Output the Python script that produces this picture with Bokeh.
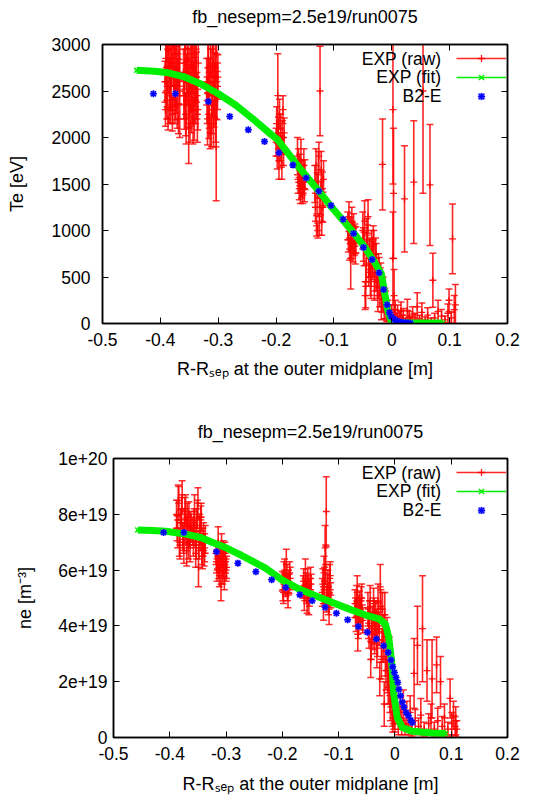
from bokeh.plotting import figure
from bokeh.models import (ColumnDataSource, FixedTicker, LinearAxis, Label, Legend,
                          LegendItem, Range1d, CustomJSTickFormatter)
from bokeh.embed import file_html
from bokeh.resources import INLINE

# ---------------------------------------------------------------- data
TITLE = "fb_nesepm=2.5e19/run0075"
x_label = "R-R\u209b\u2091\u209a at the outer midplane [m]"
te_label = "Te [eV]"
ne_label = "ne [m\u207b\u00b3]"
legend_labels = ["EXP (raw)", "EXP (fit)", "B2-E"]

x_ticks = [-0.5, -0.4, -0.3, -0.2, -0.1, 0.0, 0.1, 0.2]
x_tick_labels = ["-0.5", "-0.4", "-0.3", "-0.2", "-0.1", "0", "0.1", "0.2"]
te_ticks = [0, 500, 1000, 1500, 2000, 2500, 3000]
te_tick_labels = ["0", "500", "1000", "1500", "2000", "2500", "3000"]
ne_ticks = [0, 2, 4, 6, 8, 10]          # units of 1e19 m^-3
ne_tick_labels = ["0", "2e+19", "4e+19", "6e+19", "8e+19", "1e+20"]

# --- Te panel (eV)
te_fit_x = [-0.441, -0.41, -0.39, -0.36, -0.33, -0.30, -0.27, -0.24, -0.21, -0.197,
            -0.162, -0.128, -0.105, -0.070, -0.047, -0.030, -0.018, -0.013, -0.007,
            -0.002, 0.004, 0.02, 0.05, 0.088]
te_fit_y = [2722, 2712, 2700, 2655, 2575, 2470, 2350, 2200, 2040, 1975,
            1692, 1439, 1258, 1005, 824, 662, 535, 354, 137,
            40, 8, 5, 5, 5]

te_b2_x = [-0.412, -0.374, -0.317, -0.280, -0.248, -0.220, -0.195, -0.171, -0.148,
           -0.126, -0.105, -0.084, -0.066, -0.049, -0.034, -0.022, -0.014, -0.008,
           -0.004, -0.001, 0.003, 0.006, 0.009, 0.012, 0.016, 0.020, 0.024, 0.028, 0.032]
te_b2_y = [2471, 2471, 2388, 2226, 2082, 1956, 1836, 1703, 1565,
           1421, 1269, 1121, 969, 817, 687, 546, 365, 202,
           119, 75, 50, 38, 28, 20, 14, 10, 7, 5, 4]

te_raw_x = [
    # cluster near -0.38
    -0.392, -0.3905, -0.389, -0.3875, -0.386, -0.3845, -0.383, -0.3815, -0.380, -0.3785,
    -0.377, -0.3755, -0.374, -0.3725, -0.371, -0.3695, -0.368, -0.3665,
    -0.39125, -0.38975, -0.38825, -0.38675, -0.38525, -0.38375, -0.38225, -0.38075, -0.37925,
    -0.37775, -0.37625, -0.37475, -0.37325, -0.37175, -0.37025, -0.36875, -0.36725,
    # cluster near -0.35
    -0.360, -0.3585, -0.357, -0.3555, -0.354, -0.3525, -0.351, -0.3495, -0.348, -0.3465,
    -0.345, -0.3435, -0.342, -0.3405, -0.339, -0.3375, -0.336, -0.3345,
    -0.35925, -0.35775, -0.35625, -0.35475, -0.35325, -0.35175, -0.35025, -0.34875, -0.34725,
    -0.34575, -0.34425, -0.34275, -0.34125, -0.33975, -0.33825, -0.33675, -0.33525,
    # cluster near -0.31
    -0.320, -0.3185, -0.317, -0.3155, -0.314, -0.3125, -0.311, -0.3095, -0.308, -0.3065,
    -0.305, -0.3035, -0.302, -0.3005,
    -0.31925, -0.31775, -0.31625, -0.31475, -0.31325, -0.31175, -0.31025, -0.30875, -0.30725,
    -0.30575, -0.30425, -0.30275, -0.30125,
    # cluster near -0.19
    -0.200, -0.199, -0.198, -0.197, -0.196, -0.195, -0.194, -0.193, -0.192, -0.191,
    -0.190, -0.189, -0.188, -0.187, -0.186,
    # cluster near -0.156
    -0.163, -0.162, -0.161, -0.160, -0.159, -0.158, -0.157, -0.156, -0.155, -0.154,
    -0.153, -0.152, -0.151, -0.150,
    # cluster near -0.125
    -0.133, -0.132, -0.131, -0.130, -0.129, -0.128, -0.127, -0.126, -0.125, -0.124,
    -0.123, -0.122, -0.121, -0.120, -0.119, -0.118,
    # cluster near -0.07
    -0.076, -0.075, -0.074, -0.073, -0.072, -0.071, -0.070, -0.069, -0.068, -0.067,
    -0.066, -0.065, -0.064, -0.063, -0.062,
    # cluster near -0.043
    -0.050, -0.049, -0.048, -0.047, -0.046, -0.045, -0.044, -0.043, -0.042, -0.041,
    -0.040, -0.039, -0.038, -0.037, -0.036,
    # pedestal foot
    -0.035, -0.034, -0.033, -0.032, -0.031, -0.030, -0.029, -0.028, -0.027, -0.026,
    -0.025, -0.024, -0.023, -0.022, -0.021, -0.020, -0.019, -0.018, -0.017, -0.016,
    -0.015, -0.014, -0.013, -0.012, -0.011, -0.010, -0.009, -0.008, -0.007, -0.016,
    # SOL, large error bars
    0.002, 0.003, 0.002, 0.004, 0.022, 0.038, 0.054, 0.066, 0.071, 0.105, 0.110, 0.099,
    # SOL, small values
    0.000, 0.004, 0.006, 0.008, 0.010, 0.012, 0.014, 0.016, 0.018, 0.020, 0.024, 0.027,
    0.030, 0.033, 0.036, 0.040, 0.044, 0.048, 0.052, 0.058, 0.062, 0.068, 0.074, 0.080,
    0.086, 0.092, 0.097, 0.103, 0.108]
te_raw_y = [
    2600, 2850, 2400, 2950, 2700, 2350, 3050, 2550, 2800, 2300,
    2650, 2950, 2450, 2750, 2350, 2900, 2600, 2500,
    2300, 2750, 2550, 2200, 2950, 2650, 2400, 2850, 2250,
    3000, 2550, 2350, 2900, 2500, 2650, 2200, 2800,
    2700, 2350, 2950, 2200, 2600, 2850, 2100, 2500, 3050, 2300,
    2750, 2150, 2550, 2900, 2400, 2650, 2250, 2800,
    2450, 2800, 2250, 2650, 2950, 2350, 2700, 2150, 2550,
    2900, 2400, 2750, 2200, 2600, 2950, 2450, 2300,
    2600, 2200, 2850, 2400, 2050, 2700, 2300, 2950, 2150, 2500,
    2750, 1900, 2450, 2650,
    2400, 2750, 2250, 2600, 2950, 2150, 2500, 2800, 2350,
    2650, 2200, 2900, 2550,
    1950, 2150, 1800, 2450, 2050, 1750, 2250, 1900, 2100, 1850,
    1700, 2000, 2300, 1850, 2050,
    1800, 1550, 1700, 1450, 1650, 1400, 1750, 1500, 1600, 1380,
    1550, 1700, 1450, 1600,
    1500, 1250, 1700, 1050, 1400, 1000, 1600, 1800, 1150, 2500,
    1350, 1650, 1100, 1450, 1250, 1550,
    1050, 900, 1150, 800, 1000, 700, 850, 1100, 950, 780,
    1050, 880, 950, 750, 900,
    1000, 850, 800, 1100, 300, 400, 650, 950, 900, 1150,
    550, 700, 750, 500, 450,
    800, 700, 650, 900, 850, 400, 550, 750, 700, 500,
    450, 300, 600, 550, 380, 450, 500, 180, 300, 350,
    380, 250, 200, 280, 250, 150, 120, 100, 150, 1710,
    2300, 1400, 700, 300, 1340, 1520, 2500, 1490, 465, 910, 200, 250,
    120, 90, 150, 60, 110, 40, 80, 130, 50, 90, 30, 140,
    70, 40, 100, 60, 180, 50, 120, 40, 90, 30, 60, 130,
    80, 40, 110, 60, 150]
te_raw_err = [
    220, 250, 200, 280, 230, 200, 300, 260, 240, 150,
    250, 300, 260, 230, 250, 280, 240, 500,
    180, 250, 220, 120, 280, 200, 250, 300, 180,
    300, 220, 200, 250, 240, 200, 160, 250,
    250, 260, 300, 270, 230, 250, 380, 280, 300, 250,
    260, 220, 260, 280, 250, 270, 300, 250,
    250, 280, 230, 250, 300, 240, 260, 200, 270,
    300, 250, 280, 230, 260, 300, 250, 220,
    250, 280, 260, 300, 170, 250, 260, 300, 250, 280,
    300, 580, 260, 240,
    250, 280, 260, 250, 300, 250, 270, 290, 240,
    260, 250, 300, 250,
    150, 180, 140, 450, 170, 200, 160, 150, 150, 170,
    150, 180, 150, 150, 160,
    200, 150, 180, 120, 170, 110, 230, 150, 160, 90,
    150, 180, 140, 160,
    200, 150, 180, 110, 220, 80, 250, 150, 200, 480,
    180, 200, 150, 180, 160, 200,
    150, 130, 160, 120, 140, 330, 150, 150, 140, 120,
    130, 150, 120, 110, 140,
    200, 180, 180, 220, 150, 230, 200, 180, 160, 180,
    150, 200, 170, 200, 180,
    200, 180, 180, 150, 150, 150, 200, 170, 160, 150,
    180, 170, 150, 160, 200, 150, 150, 140, 180, 130,
    120, 120, 150, 100, 100, 100, 90, 80, 100, 490,
    800, 700, 500, 280, 570, 660, 1100, 650, 290, 375, 220, 120,
    80, 60, 100, 50, 90, 40, 60, 100, 40, 70, 30, 120,
    60, 40, 80, 50, 150, 40, 100, 30, 80, 30, 50, 120,
    70, 40, 100, 60, 150]

# --- ne panel (1e19 m^-3)
ne_fit_x = [-0.457, -0.43, -0.407, -0.372, -0.345, -0.324, -0.300, -0.277, -0.255, -0.230,
            -0.200, -0.170, -0.141, -0.111, -0.082, -0.052, -0.028, -0.017, -0.011,
            -0.006, -0.002, 0.004, 0.013, 0.031, 0.066, 0.090]
ne_fit_y = [7.44, 7.42, 7.39, 7.29, 7.17, 6.99, 6.80, 6.57, 6.34, 6.07,
            5.64, 5.32, 5.08, 4.84, 4.61, 4.39, 4.25, 4.07, 3.59,
            2.75, 1.56, 0.72, 0.36, 0.22, 0.16, 0.14]

ne_b2_x = [-0.411, -0.375, -0.317, -0.279, -0.247, -0.219, -0.194, -0.169, -0.147,
           -0.124, -0.104, -0.084, -0.065, -0.049, -0.033, -0.020, -0.012, -0.007,
           -0.004, -0.001, 0.002, 0.005, 0.007, 0.010, 0.013, 0.016, 0.020, 0.024,
           0.028, 0.031]
ne_b2_y = [7.35, 7.35, 6.66, 6.25, 5.94, 5.65, 5.38, 5.12, 4.90,
           4.67, 4.45, 4.22, 3.98, 3.77, 3.53, 3.29, 3.05, 2.78,
           2.54, 2.33, 2.15, 1.97, 1.73, 1.50, 1.26, 1.08, 0.90, 0.78,
           0.62, 0.54]

ne_raw_x = [
    # cluster near -0.375
    -0.388, -0.387, -0.386, -0.385, -0.384, -0.383, -0.382, -0.381, -0.380, -0.379,
    -0.378, -0.377, -0.376, -0.375, -0.374, -0.373, -0.372, -0.371, -0.370, -0.369,
    -0.368, -0.367, -0.366, -0.365, -0.364, -0.363, -0.362,
    # cluster near -0.348
    -0.359, -0.358, -0.357, -0.356, -0.355, -0.354, -0.353, -0.352, -0.351, -0.350,
    -0.349, -0.348, -0.347, -0.346, -0.345, -0.344, -0.343, -0.342, -0.341, -0.340,
    -0.339, -0.338, -0.337,
    # cluster near -0.308
    -0.318, -0.317, -0.316, -0.315, -0.314, -0.313, -0.312, -0.311, -0.310, -0.309,
    -0.308, -0.307, -0.306, -0.305, -0.304, -0.303, -0.302, -0.301, -0.300, -0.299,
    # cluster near -0.193
    -0.200, -0.199, -0.198, -0.197, -0.196, -0.195, -0.194, -0.193, -0.192, -0.191,
    -0.190, -0.189, -0.188, -0.187, -0.186,
    # cluster near -0.156
    -0.163, -0.162, -0.161, -0.160, -0.159, -0.158, -0.157, -0.156, -0.155, -0.154,
    -0.153, -0.152, -0.151, -0.150, -0.149,
    # cluster near -0.121
    -0.129, -0.128, -0.127, -0.126, -0.125, -0.124, -0.123, -0.122, -0.121, -0.120,
    -0.119, -0.118, -0.117, -0.116, -0.115, -0.114,
    # cluster near -0.064
    -0.071, -0.070, -0.069, -0.068, -0.067, -0.066, -0.065, -0.064, -0.063, -0.062,
    -0.061, -0.060, -0.059, -0.058, -0.057,
    # pedestal
    -0.048, -0.047, -0.046, -0.045, -0.044, -0.043, -0.042, -0.041, -0.040, -0.039,
    -0.038, -0.037, -0.036, -0.035, -0.034, -0.033, -0.032, -0.031, -0.030, -0.029,
    -0.028, -0.027, -0.026, -0.025, -0.024, -0.023, -0.022, -0.021, -0.020, -0.019,
    -0.018, -0.017, -0.016, -0.015, -0.014, -0.013, -0.012, -0.011, -0.010, -0.009,
    -0.008, -0.007, -0.006, -0.005, -0.004, -0.003, -0.002,
    # SOL, large error bars
    0.034, 0.049, 0.040, 0.057, 0.066, 0.074, 0.081, 0.098, 0.108,
    # SOL, small values
    0.000, 0.003, 0.006, 0.009, 0.012, 0.015, 0.018, 0.021, 0.024, 0.027, 0.030, 0.036,
    0.042, 0.046, 0.052, 0.060, 0.064, 0.070, 0.076, 0.084, 0.088, 0.094, 0.101, 0.104,
    0.107, 0.110]
ne_raw_y = [
    8.0, 7.5, 7.3, 8.5, 8.4, 7.0, 6.9, 7.7, 7.8, 8.2,
    8.6, 7.2, 7.1, 6.8, 7.6, 8.1, 8.2, 7.4, 6.7, 7.9,
    7.4, 6.9, 8.0, 7.3, 6.9, 7.6, 7.5,
    7.4, 7.0, 7.7, 8.1, 7.3, 6.6, 6.9, 7.6, 8.0, 8.4,
    6.1, 6.9, 7.5, 7.3, 7.8, 7.9, 6.7, 6.5, 7.0, 7.2,
    6.6, 6.8, 7.1,
    6.6, 6.3, 6.0, 6.5, 7.0, 6.1, 5.8, 6.4, 6.4, 5.5,
    6.8, 6.2, 5.9, 6.6, 6.2, 5.7, 6.6, 6.3, 6.0, 6.1,
    5.6, 5.3, 5.2, 5.9, 6.0, 5.5, 5.4, 6.2, 5.8, 5.3,
    5.1, 5.6, 5.5, 5.9, 5.7,
    5.4, 5.6, 5.0, 5.3, 5.8, 5.5, 5.2, 4.9, 5.6, 5.4,
    4.9, 5.1, 5.3, 5.7, 5.5,
    5.2, 5.5, 4.8, 5.9, 5.6, 6.8, 6.2, 8.1, 5.0, 5.3,
    5.4, 4.9, 4.6, 5.7, 5.8, 5.1,
    4.8, 4.5, 4.3, 4.9, 5.2, 3.7, 4.0, 4.6, 4.7, 4.4,
    4.5, 4.9, 5.0, 4.3, 4.2,
    4.6, 4.1, 3.8, 4.4, 4.9, 2.8, 3.4, 4.0, 4.2, 3.7,
    4.8, 4.5, 3.6, 3.9, 4.4, 4.1, 3.2, 3.5, 4.9, 4.3,
    3.9, 2.1, 5.4, 4.7, 2.8, 3.3, 4.6, 3.8, 3.4, 1.2,
    4.4, 2.9, 2.4, 3.1, 3.6, 2.2, 1.8, 2.5, 2.8, 1.5,
    1.2, 1.7, 2.0, 0.9, 0.7, 1.1, 0.9,
    2.3, 3.9, 3.3, 2.4, 2.1, 2.6, 2.0, 1.4, 0.6,
    0.8, 1.2, 0.5, 0.9, 0.6, 1.0, 0.4, 0.8, 0.5, 0.9, 0.3, 0.6,
    0.4, 0.8, 0.3, 0.5, 0.7, 0.3, 0.6, 0.4, 0.7, 0.3, 0.5, 0.8,
    0.4, 0.3]
ne_raw_err = [
    0.5, 0.45, 0.5, 0.55, 0.6, 0.5, 0.5, 0.45, 0.4, 0.5,
    0.6, 0.5, 0.5, 0.55, 0.6, 0.5, 0.5, 0.45, 0.55, 0.5,
    0.5, 0.5, 0.45, 0.5, 0.6, 0.5, 0.5,
    0.5, 0.5, 0.5, 0.6, 0.5, 0.5, 0.5, 0.6, 0.5, 0.55,
    0.7, 0.5, 0.5, 0.6, 0.5, 0.5, 0.5, 0.45, 0.5, 0.5,
    0.45, 0.5, 0.5,
    0.4, 0.4, 0.4, 0.45, 0.55, 0.4, 0.4, 0.45, 0.45, 0.6,
    0.5, 0.4, 0.4, 0.45, 0.45, 0.4, 0.4, 0.4, 0.4, 0.4,
    0.35, 0.4, 0.4, 0.4, 0.4, 0.35, 0.35, 0.55, 0.4, 0.4,
    0.45, 0.4, 0.35, 0.4, 0.4,
    0.4, 0.45, 0.45, 0.4, 0.6, 0.4, 0.4, 0.45, 0.45, 0.4,
    0.5, 0.4, 0.4, 0.4, 0.35,
    0.5, 0.55, 0.6, 0.6, 0.5, 0.8, 0.7, 1.25, 0.5, 0.55,
    0.6, 0.5, 0.55, 0.5, 0.5, 0.45,
    0.5, 0.5, 0.5, 0.55, 0.6, 0.6, 0.45, 0.5, 0.55, 0.5,
    0.5, 0.5, 0.5, 0.45, 0.45,
    0.6, 0.55, 0.6, 0.5, 0.55, 0.65, 0.6, 0.5, 0.5, 0.55,
    0.55, 0.5, 0.6, 0.55, 0.5, 0.5, 0.7, 0.6, 0.6, 0.55,
    0.6, 0.6, 0.8, 0.6, 0.7, 0.6, 0.6, 0.6, 0.7, 0.8,
    0.8, 0.7, 0.7, 0.7, 0.7, 0.6, 0.6, 0.7, 0.8, 0.6,
    0.6, 0.6, 0.7, 0.5, 0.5, 0.6, 0.6,
    1.25, 1.9, 1.4, 1.1, 1.4, 1.0, 0.9, 0.7, 0.5,
    0.6, 0.7, 0.4, 0.6, 0.5, 0.7, 0.3, 0.5, 0.4, 0.6, 0.25, 0.4,
    0.3, 0.6, 0.25, 0.35, 0.5, 0.25, 0.45, 0.35, 0.5, 0.25, 0.4, 0.5,
    0.35, 0.3]

# ---------------------------------------------------------------- style
FONT = "Liberation Sans"
TICK_FS = "17.5px"
TEXT_FS = "18px"
RED, GREEN, BLUE = "#ff0000", "#00ee00", "#0000ff"


def style_axis(ax, ticks, labels, standoff):
    ax.ticker = FixedTicker(ticks=ticks)
    ax.major_label_overrides = {t: s for t, s in zip(ticks, labels)}
    ax.major_tick_in = 6
    ax.major_tick_out = 0
    ax.minor_tick_line_color = None
    ax.major_label_standoff = standoff
    ax.major_label_text_font = FONT
    ax.major_label_text_font_size = TICK_FS
    ax.major_label_text_color = "black"
    ax.axis_line_color = "black"
    ax.axis_line_width = 1.5
    ax.major_tick_line_color = "black"
    ax.axis_label_text_font = FONT
    ax.axis_label_text_font_size = TEXT_FS
    ax.axis_label_text_font_style = "normal"
    ax.axis_label_text_color = "black"


def add_mirror(p, ticks, side, label=None, label_standoff=0):
    # tick-only axis on the opposite side (gnuplot mirrors its ticks); the top one
    # also carries the panel title
    ax = LinearAxis(ticker=FixedTicker(ticks=ticks),
                    formatter=CustomJSTickFormatter(code="return ''"),
                    major_tick_in=6, major_tick_out=0, minor_tick_line_color=None,
                    major_label_standoff=0, major_label_text_font_size="1px",
                    axis_line_color="black", axis_line_width=1.5,
                    major_tick_line_color="black",
                    axis_label=label, axis_label_standoff=label_standoff,
                    axis_label_text_font=FONT, axis_label_text_font_size=TEXT_FS,
                    axis_label_text_font_style="normal", axis_label_text_color="black")
    p.add_layout(ax, side)


def canvas_label(p, x, y, text):
    p.add_layout(Label(x=x, y=y, x_units="canvas", y_units="canvas", text=text,
                       text_font=FONT, text_font_size=TICK_FS, text_color="black",
                       text_align="right", text_baseline="middle"))


def make_panel(y_end, y_ticks, y_labels, y_label, border_left, border_top, border_bottom,
               y_standoff, y_label_standoff, x_label_standoff, title_standoff,
               raw, fit, b2):
    p = figure(width=544, height=399, x_range=Range1d(-0.5, 0.2), y_range=Range1d(0, y_end),
               output_backend="svg", toolbar_location=None,
               min_border_left=border_left, min_border_right=37,
               min_border_top=border_top, min_border_bottom=border_bottom)
    p.xgrid.visible = False
    p.ygrid.visible = False
    p.outline_line_color = "black"
    p.outline_line_width = 1.5
    p.background_fill_color = "white"
    p.border_fill_color = "white"

    xa, ya = p.xaxis[0], p.yaxis[0]
    style_axis(xa, x_ticks, x_tick_labels, 9)
    style_axis(ya, y_ticks, y_labels, y_standoff)
    xa.axis_label = x_label
    xa.axis_label_standoff = x_label_standoff
    ya.axis_label = y_label
    ya.axis_label_standoff = y_label_standoff
    add_mirror(p, x_ticks, "above", TITLE, title_standoff)
    add_mirror(p, y_ticks, "right")

    rx, ry, rerr = raw
    src = ColumnDataSource(dict(x=rx, y=ry,
                                lo=[v - e for v, e in zip(ry, rerr)],
                                hi=[v + e for v, e in zip(ry, rerr)]))
    seg = p.segment(x0="x", y0="lo", x1="x", y1="hi", source=src,
                    line_color=RED, line_width=1.6, line_alpha=0.85)
    p.scatter(x="x", y="lo", source=src, marker="dash", size=7,
              line_color=RED, line_width=1.5, line_alpha=0.8)
    p.scatter(x="x", y="hi", source=src, marker="dash", size=7,
              line_color=RED, line_width=1.5, line_alpha=0.8)
    plus = p.scatter(x="x", y="y", source=src, marker="cross", size=7,
                     line_color=RED, line_width=1.3, line_alpha=0.9)

    fx, fy = fit
    p.line(fx, fy, line_color=GREEN, line_width=7)
    fit_thin = p.line(fx, fy, line_color=GREEN, line_width=1.5)
    fit_x = p.scatter(fx, fy, marker="x", size=7, line_color=GREEN, line_width=1.5)

    bx, by = b2
    b2_sq = p.scatter(bx, by, marker="square", size=6, fill_color="#7f7fff",
                      fill_alpha=0.6, line_color=None)
    b2_star = p.scatter(bx, by, marker="asterisk", size=7, line_color=BLUE, line_width=1.5)

    legend = Legend(items=[LegendItem(label=" ", renderers=[seg, plus]),
                           LegendItem(label=" ", renderers=[fit_thin, fit_x]),
                           LegendItem(label=" ", renderers=[b2_sq, b2_star])],
                    location=(456 - border_left, 218), glyph_width=50, glyph_height=18,
                    spacing=1, padding=0, margin=0, label_standoff=0,
                    label_width=0, label_height=0, label_text_font_size="1px",
                    border_line_alpha=0, background_fill_alpha=0)
    p.add_layout(legend, "center")
    row_y = [border_top + 14, border_top + 32.5, border_top + 51]
    for yy, txt in zip(row_y, legend_labels):
        canvas_label(p, 441, yy, txt)
    return p


p1 = make_panel(3000, te_ticks, te_tick_labels, te_label, 102, 44, 76, 12, 22, 10, 18,
                (te_raw_x, te_raw_y, te_raw_err), (te_fit_x, te_fit_y), (te_b2_x, te_b2_y))
p2 = make_panel(10, ne_ticks, ne_tick_labels, ne_label, 113, 59, 61, 6, 20, 11, 17,
                (ne_raw_x, ne_raw_y, ne_raw_err), (ne_fit_x, ne_fit_y), (ne_b2_x, ne_b2_y))

# two independent roots, stacked, so their frames are not forced into alignment
open("out.html", "w").write(file_html([p1, p2], INLINE))
